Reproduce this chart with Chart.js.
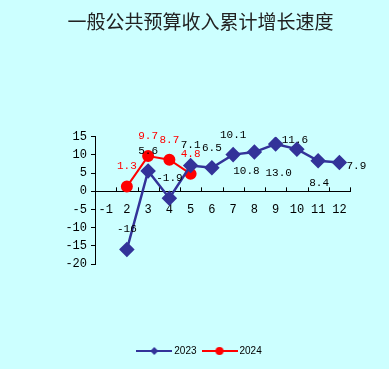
<!DOCTYPE html>
<html>
<head>
<meta charset="utf-8">
<script src="https://cdn.jsdelivr.net/npm/chart.js@4"></script>
<style>
  html, body { margin: 0; padding: 0; background: #ccffff; }
  #wrap { width: 389px; height: 369px; }
</style>
</head>
<body>
<div id="wrap"><canvas id="myChart" width="389" height="369"></canvas></div>
<script>
const months = ["-1", "2", "3", "4", "5", "6", "7", "8", "9", "10", "11", "12"];
const values2023 = [null, -16, 5.6, -1.9, 7.1, 6.5, 10.1, 10.8, 13.0, 11.6, 8.4, 7.9];
const values2024 = [null, 1.3, 9.7, 8.7, 4.8, null, null, null, null, null, null, null];
const text2023 = [null, "-16", "5.6", "-1.9", "7.1", "6.5", "10.1", "10.8", "13.0", "11.6", "8.4", "7.9"];
const text2024 = [null, "1.3", "9.7", "8.7", "4.8", null, null, null, null, null, null, null];
const yTicks = [-20, -15, -10, -5, 0, 5, 10, 15];

const blue = "#333399";
const red = "#ff0000";

// label offsets from the point (px), default is above
const labelShift = [
  { 7: [-8, 19], 8: [3, 29], 9: [-2, -9], 10: [1, 22], 11: [17, 3] },
  {}
];

function legendIcon(color, style) {
  const c = document.createElement('canvas');
  c.width = 36; c.height = 12;
  const g = c.getContext('2d');
  g.strokeStyle = color; g.lineWidth = 2;
  g.beginPath(); g.moveTo(0, 6); g.lineTo(36, 6); g.stroke();
  g.fillStyle = color;
  g.beginPath();
  if (style === 'diamond') {
    g.moveTo(18, 2); g.lineTo(22, 6); g.lineTo(18, 10); g.lineTo(14, 6);
  } else {
    g.arc(18, 6, 4, 0, Math.PI * 2);
  }
  g.fill();
  return c;
}
const icons = [legendIcon(blue, 'diamond'), legendIcon(red, 'circle')];

const pointLabels = {
  id: 'pointLabels',
  afterDatasetsDraw(chart) {
    const ctx = chart.ctx;
    const texts = [text2023, text2024];
    const colors = ['#000', red];
    ctx.save();
    ctx.font = '11px "Liberation Mono", monospace';
    ctx.textAlign = 'center';
    ctx.textBaseline = 'middle';
    chart.data.datasets.forEach((ds, di) => {
      const meta = chart.getDatasetMeta(di);
      meta.data.forEach((pt, i) => {
        if (ds.data[i] == null) return;
        const sh = labelShift[di][i] || [0, -20];
        ctx.fillStyle = colors[di];
        ctx.fillText(texts[di][i], pt.x + sh[0], pt.y + sh[1]);
      });
    });
    ctx.restore();
  }
};

// small upward ticks on the x axis between categories
const xTicks = {
  id: 'xTicks',
  afterDraw(chart) {
    const ctx = chart.ctx;
    const x = chart.scales.x, y = chart.scales.y;
    const y0 = y.getPixelForValue(0);
    const n = months.length;
    const step = (x.right - x.left) / n;
    ctx.save();
    ctx.strokeStyle = '#000';
    ctx.lineWidth = 1;
    ctx.beginPath();
    for (let i = 1; i <= n; i++) {
      const px = Math.round(x.left + i * step) + 0.5;
      ctx.moveTo(px, y0 - 4);
      ctx.lineTo(px, y0);
    }
    ctx.stroke();
    ctx.restore();
  }
};

new Chart(document.getElementById('myChart'), {
  type: 'line',
  data: {
    labels: months,
    datasets: [{
      label: '2023',
      data: values2023,
      borderColor: blue,
      backgroundColor: blue,
      borderWidth: 2.5,
      pointStyle: 'rectRot',
      pointRadius: 6,
      pointHoverRadius: 6,
      spanGaps: false
    }, {
      label: '2024',
      data: values2024,
      borderColor: red,
      backgroundColor: red,
      borderWidth: 2,
      pointStyle: 'circle',
      pointRadius: 5,
      pointHoverRadius: 5
    }]
  },
  options: {
    responsive: false,
    animation: false,
    layout: { padding: { left: 12, right: 0, top: 0, bottom: 3 } },
    scales: {
      x: {
        type: 'category',
        position: { y: 0 },
        offset: true,
        grid: { display: false },
        border: { display: true, color: '#000', width: 1 },
        ticks: {
          color: '#000',
          font: { family: '"Liberation Mono", monospace', size: 12 },
          padding: 3,
          autoSkip: false,
          maxRotation: 0
        }
      },
      y: {
        min: -20,
        max: 15,
        afterBuildTicks: s => { s.ticks = yTicks.map(v => ({ value: v })); },
        afterFit: s => { s.width = 83; },
        grid: { drawOnChartArea: false, tickLength: 4, color: '#000' },
        border: { display: true, color: '#000', width: 1 },
        ticks: {
          color: '#000',
          font: { family: '"Liberation Mono", monospace', size: 12 },
          padding: 4
        }
      },
      spacer: {
        type: 'linear',
        position: 'bottom',
        display: true,
        grid: { display: false },
        border: { display: false },
        ticks: { display: false },
        afterFit: s => { s.height = 74; }
      },
      spacerR: {
        type: 'linear',
        position: 'right',
        display: true,
        grid: { display: false },
        border: { display: false },
        ticks: { display: false },
        afterFit: s => { s.width = 39; }
      }
    },
    plugins: {
      title: {
        display: true,
        text: '一般公共预算收入累计增长速度',
        color: '#222',
        font: { family: '"Noto Sans CJK SC", sans-serif', size: 19, weight: 'normal' },
        padding: { top: 10, bottom: 104 }
      },
      legend: {
        position: 'bottom',
        labels: {
          usePointStyle: true,
          pointStyleWidth: 30,
          padding: 8,
          color: '#000',
          font: { family: '"Liberation Sans", sans-serif', size: 10 },
          generateLabels: chart => chart.data.datasets.map((ds, i) => ({
            text: ds.label,
            pointStyle: icons[i],
            fillStyle: ds.borderColor,
            strokeStyle: ds.borderColor,
            fontColor: '#000',
            lineWidth: 0,
            datasetIndex: i
          }))
        }
      },
      tooltip: { enabled: false }
    }
  },
  plugins: [pointLabels, xTicks]
});
</script>
</body>
</html>
